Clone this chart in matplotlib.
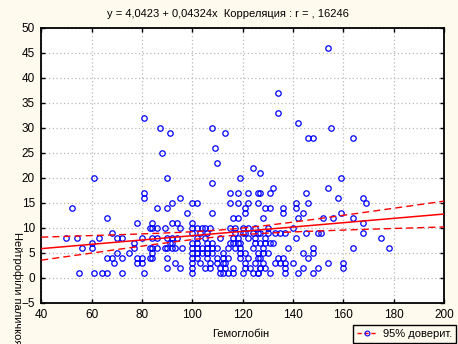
import numpy as np
import matplotlib
matplotlib.use("Agg")
import matplotlib.pyplot as plt
from matplotlib.lines import Line2D

plt.rcParams['font.family'] = ['Liberation Sans', 'DejaVu Sans']
plt.rcParams['font.size'] = 8

# haemoglobin (x) vs band neutrophils (y)
hb = [
    # x < 83
    61, 81, 81, 52, 66, 78, 83, 68,
    50, 54, 63, 70, 72, 80,
    60, 77,
    56, 60, 77, 83,
    70, 75,
    66, 68, 72, 78, 80, 83,
    69, 78, 80,
    55, 61, 64, 66, 72, 81,
    # 83 .. 100
    81, 87, 91, 88,
    90, 86, 90, 92, 95, 98, 84, 92, 94,
    84, 86, 89, 95,
    84, 86, 90, 92, 94,
    91, 92,
    84, 86, 89, 90, 92, 93, 96,
    84, 84, 90, 93, 90, 95,
    # 100 .. 127
    108, 113, 109, 110,
    108, 119, 124, 127, 115, 118, 122, 126, 100, 102, 115, 118, 122, 126,
    108, 121, 121, 116, 118, 100,
    100, 102, 104, 105, 107, 120, 122, 125, 115, 117,
    100, 103, 106, 117, 120, 121, 124, 126,
    102, 105, 111, 116, 118, 122, 125,
    100, 102, 106, 108, 115, 116, 118, 119, 125,
    100, 102, 104, 106, 108, 110, 114, 117, 119, 124,
    100, 102, 104, 106, 108, 112, 119, 121, 126,
    100, 102, 106, 110, 112, 114, 119, 122, 127,
    100, 103, 107, 110, 112, 113, 121, 125,
    100, 105, 107, 111, 113, 116, 121, 123, 127,
    100, 111, 112, 114, 116, 120, 124, 126,
    # 127 .. 180
    154, 134, 134, 142, 155, 146, 148, 164,
    132, 154, 127, 131, 145, 158, 168, 169, 141, 146, 159,
    129, 131, 136, 136, 141, 159, 144, 128, 142, 152, 156, 164, 168,
    130, 140,
    127, 130, 133, 135, 137, 145, 150, 151, 168,
    129, 141, 175,
    127, 129, 131, 132,
    128, 138, 148, 164, 178,
    128, 130, 144, 148,
    126, 134, 136, 146,
    128, 133, 135, 137, 140, 154, 160,
    127, 129, 137, 144, 150, 160,
    126, 131, 137, 142, 148,
]
neut = [
    20, 17, 16, 14, 12, 11, 10, 9,
    8, 8, 8, 8, 8, 8,
    7, 7,
    6, 6, 6, 6,
    5, 5,
    4, 4, 4, 4, 4, 4,
    3, 3, 3,
    1, 1, 1, 1, 1, 1,
    32, 30, 29, 25,
    20, 14, 14, 15, 16, 13, 11, 11, 11,
    10, 10, 10, 10,
    8, 8, 8, 8, 8,
    7, 7,
    6, 6, 6, 6, 6, 6, 6,
    5, 4, 4, 3, 2, 2,
    30, 29, 26, 23,
    19, 20, 22, 21, 17, 17, 17, 17, 15, 15, 15, 15, 15, 15,
    13, 14, 13, 12, 12, 11,
    10, 10, 10, 10, 10, 10, 10, 10, 10, 10,
    9, 9, 9, 9, 9, 9, 9, 9,
    8, 8, 8, 8, 8, 8, 8,
    7, 7, 7, 7, 7, 7, 7, 7, 7,
    6, 6, 6, 6, 6, 6, 6, 6, 6, 6,
    5, 5, 5, 5, 5, 5, 5, 5, 5,
    4, 4, 4, 4, 4, 4, 4, 4, 4,
    3, 3, 3, 3, 3, 3, 3, 3,
    2, 2, 2, 2, 2, 2, 2, 2, 2,
    1, 1, 1, 1, 1, 1, 1, 1,
    46, 37, 33, 31, 30, 28, 28, 28,
    18, 18, 17, 17, 17, 16, 16, 15, 15, 15, 20,
    14, 14, 14, 13, 14, 13, 13, 12, 12, 12, 12, 12, 11,
    10, 10,
    9, 9, 9, 9, 9, 9, 9, 9, 9,
    8, 8, 8,
    7, 7, 7, 7,
    6, 6, 6, 6, 6,
    5, 5, 5, 5,
    4, 4, 4, 4,
    3, 3, 3, 3, 3, 3, 3,
    2, 2, 2, 2, 2, 2,
    1, 1, 1, 1, 1,
]

# regression from the title, band width
intercept = 4.0423
slope = 0.04324
ci_center_x = 115
ci_center_half = 0.65
ci_slope_half = 0.0294

title = "y = 4,0423 + 0,04324x  Корреляция : r = , 16246"
x_label = "Гемоглобін"
y_label = "Нейтрофіли паличкоядерні"
legend_label = "95% доверит."

bg = '#fffaee'
W, H = 458, 344
fig = plt.figure(figsize=(W / 100, H / 100), dpi=100, facecolor=bg)
ax = fig.add_axes([41.3 / W, 1 - 302.5 / H, (444 - 41.3) / W, (302.5 - 27.5) / H])
ax.set_facecolor('white')

ax.plot(hb, neut, ls='none', marker='o', ms=3.9, mfc='none', mec='#0000ff', mew=0.9, zorder=3)

xs = np.linspace(40, 200, 200)
fit = intercept + slope * xs
half = np.sqrt(ci_center_half ** 2 + (ci_slope_half * (xs - ci_center_x)) ** 2)
ax.plot(xs, fit, color='red', lw=1.1, zorder=4)
ax.plot(xs, fit + half, color='red', lw=1.0, ls=(0, (5, 3)), zorder=4)
ax.plot(xs, fit - half, color='red', lw=1.0, ls=(0, (5, 3)), zorder=4)

ax.set_xlim(40, 200)
ax.set_ylim(-5, 50)
ax.set_xticks(np.arange(40, 201, 20))
ax.set_yticks(np.arange(-5, 51, 5))
ax.grid(True, color='#b8b8b8', ls=(0, (1, 2)), lw=0.9)
ax.tick_params(direction='in', length=3, width=1, top=True, right=True,
               labelsize=8.5, pad=4.5, colors='black')
for s in ax.spines.values():
    s.set_linewidth(1.3)
    s.set_color('black')

fig.text(228 / W, 1 - 14 / H, title, ha='center', va='center', fontsize=8)
fig.text(241 / W, 1 - 334 / H, x_label, ha='center', va='center', fontsize=8)
fig.text(17 / W, 1 - 232 / H, y_label, ha='center', va='top', rotation=270, fontsize=8)

handle = Line2D([0], [0], color='red', ls=(0, (3, 2)), lw=1, marker='o', ms=3.5,
                mfc='none', mec='#0000ff', mew=0.8)
leg = fig.legend([handle], [legend_label], loc='upper right',
                 bbox_to_anchor=(456 / W, 1 - 325 / H), frameon=True, fancybox=False,
                 edgecolor='black', facecolor=bg, framealpha=1, fontsize=8,
                 handlelength=1.8, borderpad=0.35, handletextpad=0.5, borderaxespad=0)
leg.get_frame().set_linewidth(1)

fig.savefig('out.png', dpi=100, facecolor=bg)
